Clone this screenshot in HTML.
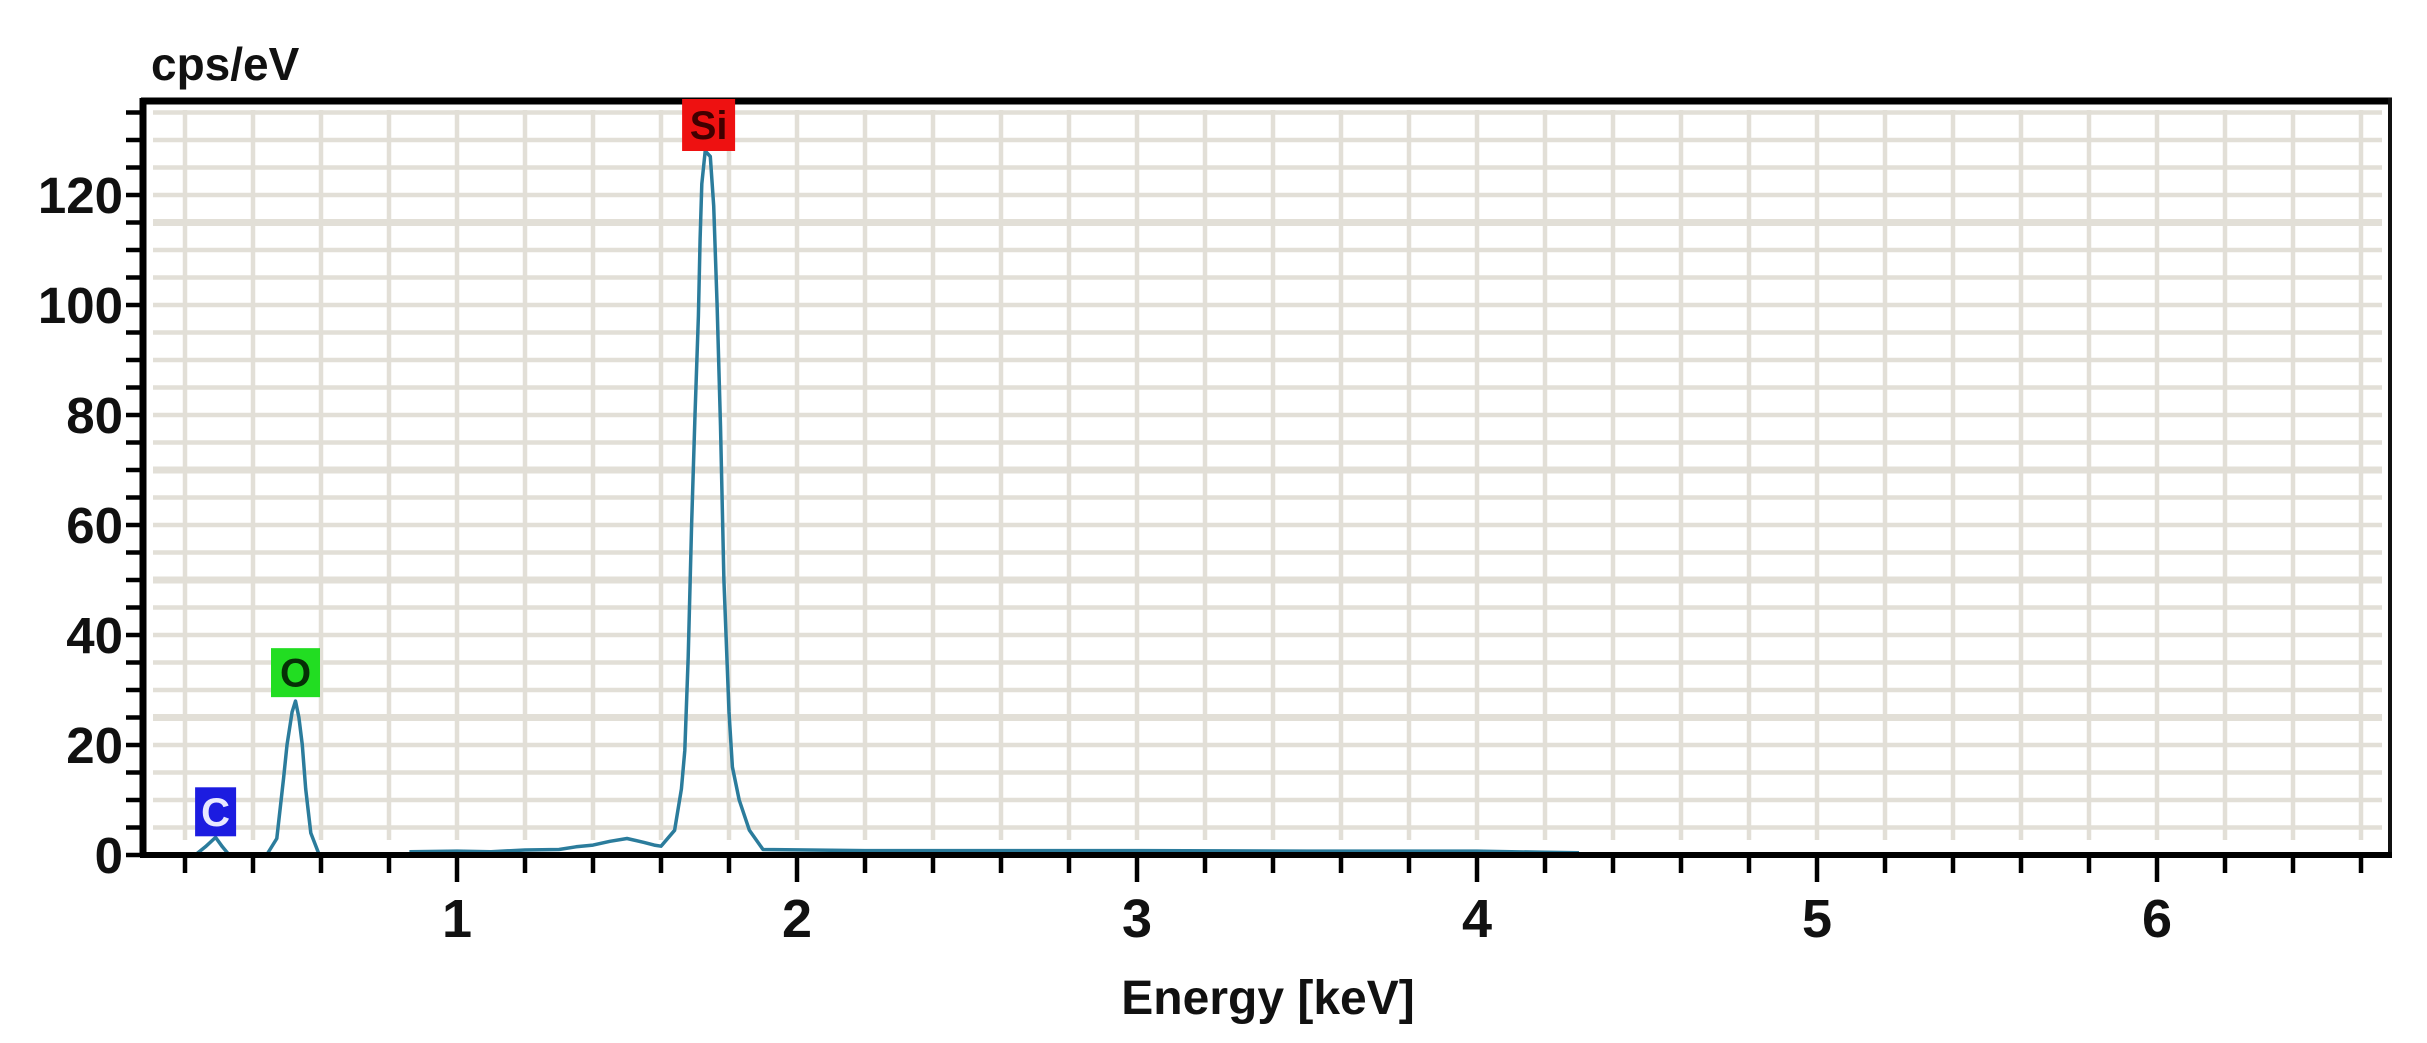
<!DOCTYPE html>
<html><head><meta charset="utf-8"><style>
html,body{margin:0;padding:0;background:#fff;}
svg{display:block;}
text{font-family:"Liberation Sans",sans-serif;}
</style></head><body>
<svg id="chart" width="2427" height="1043" viewBox="0 0 2427 1043" xmlns="http://www.w3.org/2000/svg">
<g id="grid"></g>
<g id="spectrum"></g>
<g id="frame"></g>
<g id="ticks"></g>
<g id="peaks"></g>
<text x="151" y="80" font-size="46" font-weight="bold" fill="#111">cps/eV</text>
<text x="1268" y="1014" font-size="48" font-weight="bold" fill="#111" text-anchor="middle">Energy [keV]</text>
</svg>
<script>
const xTickLabels = [1, 2, 3, 4, 5, 6];
const yTickLabels = [0, 20, 40, 60, 80, 100, 120];
const energy = [0.23,0.26,0.29,0.31,0.33,null,0.44,0.47,0.49,0.50,0.515,0.525,0.535,0.545,0.555,0.57,0.595,null,0.86,1.0,1.1,1.2,1.3,1.35,1.4,1.45,1.5,1.55,1.58,1.6,1.64,1.66,1.67,1.68,1.69,1.70,1.71,1.715,1.72,1.73,1.745,1.755,1.765,1.775,1.785,1.80,1.81,1.83,1.86,1.90,2.2,2.6,3.0,3.5,4.0,4.2,4.3];
const counts = [0,1.5,3.2,1.5,0,null,0,3,14,20,26,28,25,20,12,4,0,null,0.6,0.7,0.6,0.9,1.0,1.5,1.8,2.5,3.0,2.3,1.8,1.6,4.5,12,19,36,60,80,98,112,122,128,127,118,100,78,50,26,16,10,4.5,1.0,0.8,0.8,0.8,0.7,0.7,0.5,0.4];
const peakNames = ["C","O","Si"];
const peakEnergy = [0.29,0.525,1.74];
const peakTop = [3.4,28.7,128];
const peakColors = ["#1c1ce0","#22dd22","#ee1111"];
const peakTextColors = ["#e8e8ff","#063006","#400000"];

const NS="http://www.w3.org/2000/svg";
const PX0=143,PX1=2390,PY0=98,PY1=855;
function xs(e){return 457+(e-1)*340;}
function ys(v){return 855-v*5.5;}
function mk(tag,attrs,parent){const el=document.createElementNS(NS,tag);for(const k in attrs)el.setAttribute(k,attrs[k]);parent.appendChild(el);return el;}

const gridG=document.getElementById('grid');
for(let v=5;v<=135;v+=5){
  const thick=(v===25||v===50||v===70||v===115);
  const l=mk('line',{x1:153,x2:2382,y1:ys(v),y2:ys(v),stroke:'#e2dfd7','stroke-width':thick?7:4.5},gridG);
  
  
}
for(let i=2;i<=66;i+=2){
  const e=i/10;
  const l=mk('line',{x1:xs(e),x2:xs(e),y1:110,y2:840,stroke:'#e2dfd7','stroke-width':4.5},gridG);
  
  
}

const specG=document.getElementById('spectrum');
let pathD='',startSeg=true;
for(let i=0;i<energy.length;i++){
  if(energy[i]===null){startSeg=true;continue;}
  pathD+=(startSeg?'M':'L')+xs(energy[i]).toFixed(1)+','+ys(counts[i]).toFixed(1)+' ';
  startSeg=false;
}
const specPath=mk('path',{d:pathD,fill:'none',stroke:'#2b7c9c','stroke-width':3.5,'stroke-linejoin':'round'},specG);



const frameG=document.getElementById('frame');
const frameTop=mk('line',{x1:PX0-2,x2:PX1+2,y1:PY0+3,y2:PY0+3,stroke:'#000','stroke-width':7},frameG);


const frameRight=mk('line',{x1:PX1,x2:PX1,y1:PY0,y2:PY1,stroke:'#111','stroke-width':4},frameG);


const frameLeft=mk('line',{x1:PX0,x2:PX0,y1:PY0,y2:PY1+2,stroke:'#000','stroke-width':7},frameG);


const frameBottom=mk('line',{x1:PX0-3,x2:PX1+2,y1:PY1,y2:PY1,stroke:'#000','stroke-width':6},frameG);



const tickG=document.getElementById('ticks');
for(let v=0;v<=135;v+=5){
  const t=mk('line',{x1:PX0-17,x2:PX0,y1:ys(v),y2:ys(v),stroke:'#000','stroke-width':4.5},tickG);
  
  
}
yTickLabels.forEach(v=>{
  const t=mk('text',{x:123,y:ys(v)+18,'font-size':51,'font-weight':'bold','text-anchor':'end',fill:'#111'},tickG);
  t.textContent=v;
  
  
});
for(let i=2;i<=66;i+=2){
  const e=i/10, major=(i%10===0);
  const t=mk('line',{x1:xs(e),x2:xs(e),y1:PY1,y2:major?882:873,stroke:'#000','stroke-width':4.5},tickG);
  
  
}
xTickLabels.forEach(v=>{
  const t=mk('text',{x:xs(v),y:937,'font-size':54,'font-weight':'bold','text-anchor':'middle',fill:'#111'},tickG);
  t.textContent=v;
  
  
});

const peakG=document.getElementById('peaks');
peakNames.forEach((n,i)=>{
  const w=n.length>1?53:(i===0?41:49), h=(i===2?52:49);
  const cx=xs(peakEnergy[i]), yb=ys(peakTop[i]);
  const g=mk('g',{},peakG);
  
  
  mk('rect',{x:cx-w/2,y:yb-h,width:w,height:h,fill:peakColors[i]},g);
  const t=mk('text',{x:cx,y:yb-h/2+14,'font-size':40,'font-weight':'bold','text-anchor':'middle',fill:peakTextColors[i]},g);
  t.textContent=n;
});
</script>
</body></html>
